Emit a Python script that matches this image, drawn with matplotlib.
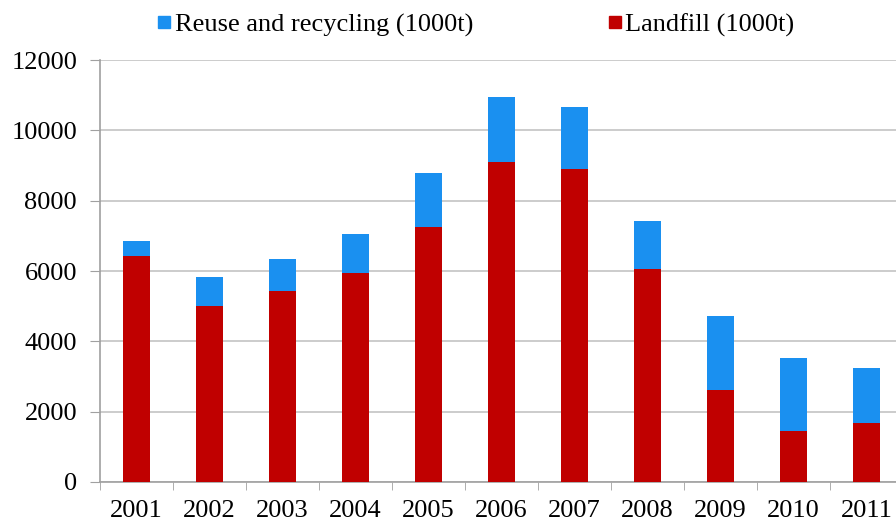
import numpy as np
import matplotlib.pyplot as plt
from matplotlib.lines import Line2D

plt.rcParams['font.family'] = ['Liberation Serif', 'DejaVu Serif']

years = ['2001', '2002', '2003', '2004', '2005', '2006',
         '2007', '2008', '2009', '2010', '2011']
landfill = [6420, 5010, 5440, 5950, 7240, 9090, 8910, 6060, 2610, 1460, 1670]
recycling = [430, 810, 900, 1100, 1545, 1865, 1740, 1360, 2110, 2060, 1570]

red = '#C00000'
blue = '#1A90F0'
fs = 19

fig = plt.figure(figsize=(8.96, 5.26), dpi=100)
ax = fig.add_axes([100/896, 44/526, 803/896, 422/526])

x = np.arange(len(years))
w = 0.38
ax.bar(x, landfill, w, color=red, zorder=3)
ax.bar(x, recycling, w, bottom=landfill, color=blue, zorder=3)

ax.set_xlim(-0.5, len(years) - 0.5)
ax.set_ylim(0, 12000)
ax.set_yticks(np.arange(0, 12001, 2000))
ax.yaxis.grid(True, color='#C8C8C8', lw=1.3, zorder=0)

ax.set_xticks(x)
ax.set_xticklabels(years)
ax.set_xticks(np.arange(-0.5, len(years)), minor=True)
ax.tick_params(axis='x', which='major', length=0, pad=13, labelsize=fs)
ax.tick_params(axis='x', which='minor', length=6, color='#A0A0A0', direction='out')
ax.tick_params(axis='y', length=7, color='#A0A0A0', pad=9.5, labelsize=fs)

for s in ['top', 'right']:
    ax.spines[s].set_visible(False)
for s in ['left', 'bottom']:
    ax.spines[s].set_color('#A0A0A0')
    ax.spines[s].set_linewidth(1.2)

handles = [Line2D([], [], ls='', marker='s', ms=8, color=blue),
           Line2D([], [], ls='', marker='s', ms=8, color=red)]
fig.legend(handles, ['Reuse and recycling (1000t)', 'Landfill (1000t)'],
           loc='center', bbox_to_anchor=(476/896, 1 - 25/526), ncol=2,
           frameon=False, fontsize=fs, handlelength=0.5, handletextpad=0.15,
           columnspacing=5.1, borderpad=0)

fig.savefig('out.png', dpi=100)
